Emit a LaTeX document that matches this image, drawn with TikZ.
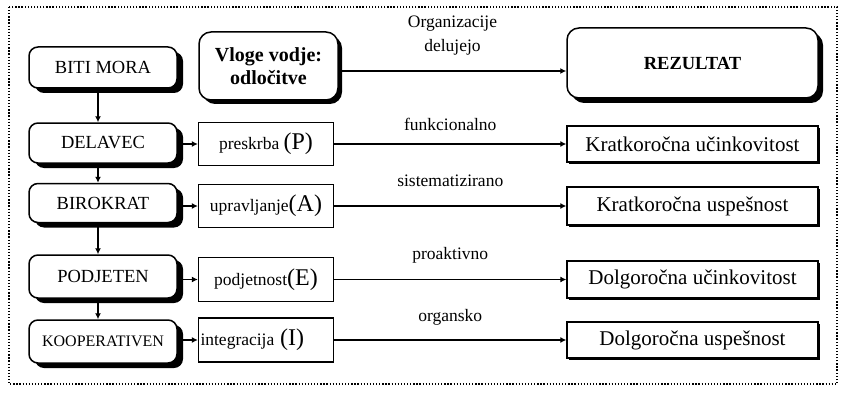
\documentclass[tikz,border=0pt]{standalone}
\usepackage{fontspec}
\setmainfont{Liberation Serif}
\usetikzlibrary{shadows,arrows.meta}
% enlarged task letter in brackets
\newcommand{\taskletter}[1]{{\fontsize{24}{26}\selectfont(#1)}}

\begin{document}
\begin{tikzpicture}[x=1pt,y=-1pt,
  rolebox/.style={draw, line width=1.5pt, rounded corners=9pt, fill=white,
    minimum width=148pt, inner sep=0pt, font=\fontsize{18.5}{20}\selectfont,
    drop shadow={shadow xshift=6pt, shadow yshift=-5pt, opacity=1, fill=black}},
  bigbox/.style={draw, line width=1.5pt, rounded corners=12pt, fill=white,
    inner sep=0pt, align=center, font=\bfseries\fontsize{20}{23}\selectfont,
    drop shadow={shadow xshift=4pt, shadow yshift=-4pt, opacity=1, fill=black}},
  taskbox/.style={draw, line width=1.3pt, fill=white, minimum width=135pt,
    inner sep=0pt, font=\fontsize{17.5}{19}\selectfont},
  outbox/.style={draw, line width=1.3pt, fill=white, minimum width=251pt,
    inner sep=0pt, font=\fontsize{21}{23}\selectfont,
    drop shadow={shadow xshift=2pt, shadow yshift=-2pt, opacity=1, fill=black}},
  tip/.style={-{Latex[length=6pt,width=6pt]}},
  conn/.style={tip, line width=1.5pt},
  heavy/.style={tip, line width=2.2pt},
  lab/.style={font=\fontsize{17.5}{24}\selectfont, align=center, inner sep=0pt}
]
\useasboundingbox (0,0) rectangle (842,393);

% dotted frame
\draw[line width=1.3pt, dash pattern=on 1.3pt off 1.8pt] (9,7) rectangle (837,384);

% role chain on the left
\node[rolebox, minimum height=41pt] (L0) at (103,67.5) {BITI MORA};
\node[rolebox, minimum height=40pt] (L1) at (103,143) {DELAVEC};
\node[rolebox, minimum height=39pt] (L2) at (103,203) {BIROKRAT};
\node[rolebox, minimum height=43pt] (L3) at (103,276.5) {PODJETEN};
\node[rolebox, minimum height=43pt, font=\fontsize{16}{18}\selectfont] (L4) at (103,341.5) {KOOPERATIVEN};

% leader roles and tasks
\node[bigbox, minimum width=139pt, minimum height=68pt] (V) at (268.5,66) {Vloge vodje:\\odločitve};
\node[taskbox, minimum height=43pt] (M1) at (266,144) {preskrba \taskletter{P}};
\node[taskbox, minimum height=43pt] (M2) at (266,206) {upravljanje\taskletter{A}};
\node[taskbox, minimum height=44pt] (M3) at (266,279.5) {podjetnost\taskletter{E}};
\node[taskbox, minimum height=44pt, text width=131pt, align=left] (M4) at (266,340) {integracija \taskletter{I}};

% results
\node[bigbox, minimum width=251pt, minimum height=70pt, font=\bfseries\fontsize{18.5}{20}\selectfont,
  drop shadow={shadow xshift=5pt, shadow yshift=-5pt, opacity=1, fill=black}] (R0) at (692.5,63) {REZULTAT};
\node[outbox, minimum height=36pt] (R1) at (692.5,144) {Kratkoročna učinkovitost};
\node[outbox, minimum height=38pt] (R2) at (692.5,206) {Kratkoročna uspešnost};
\node[outbox, minimum height=37pt] (R3) at (692.5,279.5) {Dolgoročna učinkovitost};
\node[outbox, minimum height=36pt] (R4) at (692.5,340) {Dolgoročna uspešnost};

% vertical chain
\draw[conn] ([xshift=-5pt]L0.south) -- ([xshift=-5pt]L1.north);
\draw[conn] ([xshift=-5pt]L1.south) -- ([xshift=-5pt]L2.north);
\draw[conn] ([xshift=-5pt]L2.south) -- ([xshift=-5pt]L3.north);
\draw[conn] ([xshift=-5pt]L3.south) -- ([xshift=-5pt]L4.north);

% role to task
\draw[conn] (L1.east |- M1.west) -- (M1.west);
\draw[conn] (L2.east |- M2.west) -- (M2.west);
\draw[conn] (L3.east |- M3.west) -- (M3.west);
\draw[conn] (L4.east |- M4.west) -- (M4.west);

% task to result
\draw[heavy] ([yshift=-5pt]V.east) -- ([yshift=-8pt]R0.west)
  node[lab, midway, yshift=35pt] {Organizacije\\delujejo};
\draw[conn] (M1.east) -- (R1.west) node[lab, midway, yshift=20pt] {funkcionalno};
\draw[conn] (M2.east) -- (R2.west) node[lab, midway, yshift=25pt] {sistematizirano};
\draw[conn] (M3.east) -- (R3.west) node[lab, midway, yshift=24.5pt] {proaktivno};
\draw[heavy] (M4.east) -- (R4.west) node[lab, midway, yshift=23pt] {organsko};
\end{tikzpicture}
\end{document}
